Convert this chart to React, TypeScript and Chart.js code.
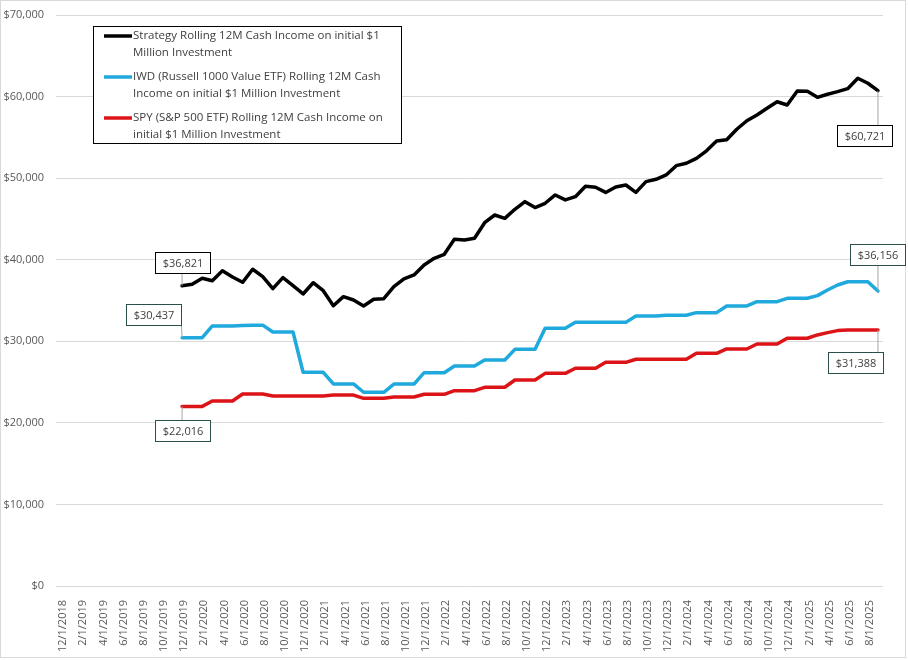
import React, { useEffect, useRef } from "react";
import { Chart, registerables } from "chart.js";

Chart.register(...registerables);

const FONT = "'Open Sans', 'Noto Sans', sans-serif";

// monthly categories 12/1/2018 .. 9/1/2025
const months: string[] = [];
for (let i = 0; i < 82; i++) {
  const m = ((11 + i) % 12) + 1;
  const y = 2018 + Math.floor((11 + i) / 12);
  months.push(`${m}/1/${y}`);
}

const seriesNames = [
  "Strategy Rolling 12M Cash Income on initial $1 Million Investment",
  "IWD (Russell 1000 Value ETF) Rolling 12M Cash Income on initial $1 Million Investment",
  "SPY (S&P 500 ETF) Rolling 12M Cash Income on initial $1 Million Investment",
];

// legend text split the way the reference wraps it
const legendLines = [
  ["Strategy Rolling 12M Cash Income on initial $1", "Million Investment"],
  ["IWD (Russell 1000 Value ETF) Rolling 12M Cash", "Income on initial $1 Million Investment"],
  ["SPY (S&P 500 ETF) Rolling 12M Cash Income on", "initial $1 Million Investment"],
];

const noData = [null, null, null, null, null, null, null, null, null, null, null, null];

const strategy: (number | null)[] = [
  ...noData,
  36821, 37000, 37720, 37430, 38650, 37880, 37230, 38830, 37920, 36450,
  37800, 36820, 35800, 37180, 36200, 34360, 35470, 35060, 34330, 35150,
  35220, 36690, 37650, 38130, 39350, 40170, 40660, 42500, 42420, 42630,
  44540, 45480, 45070, 46180, 47120, 46390, 46920, 47940, 47330, 47730,
  49000, 48880, 48250, 48920, 49160, 48250, 49570, 49860, 50390, 51530,
  51820, 52430, 53350, 54550, 54700, 55990, 57040, 57740, 58560, 59370,
  58970, 60690, 60650, 59910, 60280, 60610, 60970, 62240, 61630, 60721,
];

const iwd: (number | null)[] = [
  ...noData,
  30437, 30437, 30437, 31880, 31880, 31880, 31950, 31980, 31980, 31140,
  31140, 31140, 26200, 26200, 26200, 24770, 24770, 24770, 23750, 23750,
  23750, 24750, 24750, 24750, 26150, 26150, 26150, 26970, 26970, 26970,
  27700, 27700, 27700, 29010, 29010, 29010, 31590, 31590, 31590, 32320,
  32320, 32320, 32320, 32320, 32320, 33110, 33110, 33110, 33190, 33190,
  33190, 33510, 33510, 33510, 34330, 34330, 34330, 34860, 34860, 34860,
  35270, 35270, 35270, 35600, 36280, 36900, 37300, 37300, 37300, 36156,
];

const spy: (number | null)[] = [
  ...noData,
  22016, 22016, 22016, 22680, 22680, 22680, 23540, 23540, 23540, 23290,
  23290, 23290, 23290, 23290, 23290, 23410, 23410, 23410, 23010, 23010,
  23010, 23170, 23170, 23170, 23500, 23500, 23500, 23950, 23950, 23950,
  24360, 24360, 24360, 25250, 25250, 25250, 26070, 26070, 26070, 26690,
  26690, 26690, 27420, 27420, 27420, 27800, 27800, 27800, 27800, 27800,
  27800, 28530, 28530, 28530, 29060, 29060, 29060, 29670, 29670, 29670,
  30370, 30370, 30370, 30780, 31060, 31310, 31390, 31390, 31390, 31388,
];

const lineColors = ["#000000", "#1fa9dc", "#dc1417"];

// which points get a value call-out, and where the box sits relative to the point
const callouts = [
  { dataset: 0, index: 12, dx: 0, dy: -23, border: "#000000" },
  { dataset: 1, index: 12, dx: -29, dy: -23, border: "#2b4f4a" },
  { dataset: 2, index: 12, dx: 0, dy: 24, border: "#2b4f4a" },
  { dataset: 0, index: 81, dx: -13, dy: 45, border: "#000000" },
  { dataset: 1, index: 81, dx: 0, dy: -37, border: "#2b4f4a" },
  { dataset: 2, index: 81, dx: -22, dy: 33, border: "#2b4f4a" },
];

const fmt = (v: number) => "$" + v.toLocaleString("en-US");

const framePlugin = {
  id: "frame",
  beforeDraw(chart: any) {
    const { ctx, width, height } = chart;
    ctx.save();
    ctx.fillStyle = "#ffffff";
    ctx.fillRect(0, 0, width, height);
    ctx.strokeStyle = "#d9d9d9";
    ctx.lineWidth = 1;
    ctx.strokeRect(0.5, 0.5, width - 3, height - 3);
    ctx.restore();
  },
};

const calloutPlugin = {
  id: "callouts",
  afterDatasetsDraw(chart: any) {
    const ctx = chart.ctx;
    ctx.save();
    ctx.font = `11px ${FONT}`;
    callouts.forEach((c) => {
      const pt = chart.getDatasetMeta(c.dataset).data[c.index];
      const value = chart.data.datasets[c.dataset].data[c.index] as number;
      const text = fmt(value);
      const w = Math.round(ctx.measureText(text).width + 14);
      const h = 21;
      const l = Math.round(pt.x + c.dx - w / 2) + 0.5;
      const t = Math.round(pt.y + c.dy - h / 2) + 0.5;
      const ex = Math.min(Math.max(pt.x, l), l + w);
      const ey = Math.min(Math.max(pt.y, t), t + h);
      ctx.strokeStyle = "#a6a6a6";
      ctx.lineWidth = 1;
      ctx.beginPath();
      ctx.moveTo(pt.x, pt.y);
      ctx.lineTo(ex, ey);
      ctx.stroke();
      ctx.fillStyle = "#ffffff";
      ctx.fillRect(l, t, w, h);
      ctx.strokeStyle = c.border;
      ctx.strokeRect(l, t, w, h);
      ctx.fillStyle = "#404040";
      ctx.textAlign = "center";
      ctx.textBaseline = "middle";
      ctx.fillText(text, l + w / 2, t + h / 2 + 0.5);
    });
    ctx.restore();
  },
};

const legendPlugin = {
  id: "boxLegend",
  afterDraw(chart: any) {
    const ctx = chart.ctx;
    ctx.save();
    ctx.fillStyle = "#ffffff";
    ctx.fillRect(93.5, 26.5, 308, 117);
    ctx.strokeStyle = "#000000";
    ctx.lineWidth = 1;
    ctx.strokeRect(93.5, 26.5, 308, 117);
    ctx.font = `11.5px ${FONT}`;
    ctx.textBaseline = "middle";
    ctx.textAlign = "left";
    legendLines.forEach((lines, i) => {
      const y0 = 36 + i * 41;
      ctx.strokeStyle = lineColors[i];
      ctx.lineWidth = 3.5;
      ctx.beginPath();
      ctx.moveTo(104, y0);
      ctx.lineTo(132, y0);
      ctx.stroke();
      ctx.fillStyle = "#404040";
      lines.forEach((s, j) => ctx.fillText(s, 133, y0 + j * 16.5));
    });
    ctx.restore();
  },
};

const App: React.FC = () => {
  const canvasRef = useRef<HTMLCanvasElement>(null);
  const chartRef = useRef<Chart | null>(null);

  useEffect(() => {
    document.body.style.margin = "0";
    if (!canvasRef.current) return;
    const ctx = canvasRef.current.getContext("2d");
    if (!ctx) return;

    const series = [strategy, iwd, spy];

    chartRef.current = new Chart(ctx, {
      type: "line",
      data: {
        labels: months,
        datasets: series.map((data, i) => ({
          label: seriesNames[i],
          data,
          borderColor: lineColors[i],
          backgroundColor: lineColors[i],
          borderWidth: 3.5,
          pointRadius: 0,
          tension: 0,
          borderJoinStyle: "round" as const,
          borderCapStyle: "round" as const,
        })),
      },
      options: {
        animation: false,
        responsive: true,
        maintainAspectRatio: false,
        layout: { padding: { left: 0, right: 25, top: 15, bottom: 2 } },
        plugins: {
          legend: { display: false },
          tooltip: { enabled: false },
        },
        scales: {
          x: {
            offset: true,
            grid: { display: false },
            border: { display: false },
            afterFit: (scale: any) => {
              scale.height = 72;
              scale.paddingTop = 0;
              scale.paddingBottom = 0;
            },
            ticks: {
              autoSkip: false,
              minRotation: 90,
              maxRotation: 90,
              labelOffset: 2,
              padding: 6,
              color: "#595959",
              font: { family: FONT, size: 11 },
              callback: (_v: any, i: number) => (i % 2 === 0 ? months[i] : ""),
            },
          },
          y: {
            min: 0,
            max: 70000,
            afterFit: (scale: any) => {
              scale.width = 56;
              scale.paddingTop = 0;
              scale.paddingBottom = 0;
            },
            grid: { color: "#d9d9d9", drawTicks: false },
            border: { display: false },
            ticks: {
              stepSize: 10000,
              padding: 12,
              color: "#595959",
              font: { family: FONT, size: 11 },
              callback: (v: any) => fmt(Number(v)),
            },
          },
        },
      },
      plugins: [framePlugin, calloutPlugin, legendPlugin],
    });

    return () => {
      if (chartRef.current) {
        chartRef.current.destroy();
        chartRef.current = null;
      }
    };
  }, []);

  return (
    <div style={{ width: "908px", height: "660px", position: "relative" }}>
      <canvas ref={canvasRef}></canvas>
    </div>
  );
};

export default App;
